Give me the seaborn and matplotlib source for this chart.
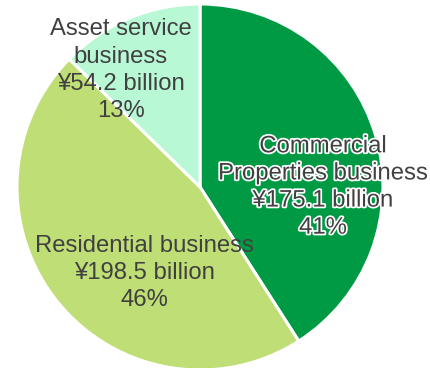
import matplotlib
matplotlib.use("Agg")
import matplotlib.pyplot as plt
import matplotlib.patheffects as pe
import seaborn as sns

# Segment data
segments = ["Commercial\nProperties business", "Residential business", "Asset service\nbusiness"]
amounts = [175.1, 198.5, 54.2]          # ¥ billion
shares = [41, 46, 13]                   # percent

sns.set_theme(style="white")
plt.rcParams["font.family"] = ["Liberation Sans", "DejaVu Sans"]

colors = ["#009A44", "#C0DE76", "#B9F8D5"]
text_color = "#404040"

fig = plt.figure(figsize=(4.30, 3.68), dpi=100)
ax = fig.add_axes([0, 0, 1, 1])

wedges, _ = ax.pie(
    amounts,
    colors=colors,
    startangle=90,
    counterclock=False,
    radius=1.0,
    wedgeprops=dict(edgecolor="white", linewidth=2.2),
)

# pixel-based layout: pie centre (200, 187), radius 183 px
R = 183.0
ax.set_xlim(-200 / R, 230 / R)
ax.set_ylim(-(368 - 187) / R, 187 / R)
ax.set_aspect("auto")
ax.axis("off")

label_pos = [(0.672, 0.0), (-0.306, -0.47), (-0.432, 0.639)]
for name, amt, pct, (x, y), i in zip(segments, amounts, shares, label_pos, range(3)):
    txt = ax.text(
        x, y, f"{name}\n¥{amt:.1f} billion\n{pct}%",
        ha="center", va="center", fontsize=17.2, color=text_color,
        linespacing=1.3,
    )
    if i == 0:
        txt.set_path_effects([pe.withStroke(linewidth=2.5, foreground="white")])

fig.savefig("out.png", dpi=100)
